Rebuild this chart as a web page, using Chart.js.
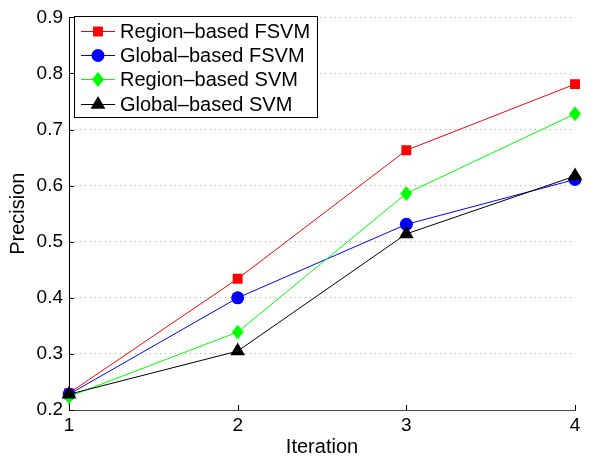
<!DOCTYPE html>
<html>
<head>
<meta charset="utf-8">
<script src="https://cdn.jsdelivr.net/npm/chart.js@4/dist/chart.umd.min.js"></script>
<style>
  html, body { margin: 0; padding: 0; background: #fff; }
  #wrap { width: 595px; height: 459px; }
</style>
</head>
<body>
<div id="wrap"><canvas id="precisionChart" width="595" height="459"></canvas></div>
<script>
// iterations on the x axis
const iterations = ['1', '2', '3', '4'];
const yTicks = [0.2, 0.3, 0.4, 0.5, 0.6, 0.7, 0.8, 0.9];

// precision per iteration
const regionFsvm = [0.230, 0.434, 0.663, 0.781];
const globalFsvm = [0.228, 0.400, 0.531, 0.611];
const regionSvm  = [0.224, 0.339, 0.586, 0.728];
const globalSvm  = [0.228, 0.305, 0.514, 0.617];

const seriesNames = ['Region\u2013based FSVM', 'Global\u2013based FSVM', 'Region\u2013based SVM', 'Global\u2013based SVM'];

const FONT = 'Liberation Sans, Arial, Helvetica, sans-serif';

// narrow diamond, like the matlab 'd' marker
function makeDiamond(w, h, color) {
  const c = document.createElement('canvas');
  c.width = w; c.height = h;
  const g = c.getContext('2d');
  g.fillStyle = color;
  g.beginPath();
  g.moveTo(w / 2, 0);
  g.lineTo(w, h / 2);
  g.lineTo(w / 2, h);
  g.lineTo(0, h / 2);
  g.closePath();
  g.fill();
  return c;
}
const greenDiamond = makeDiamond(12, 15, '#00ff00');

function series(label, data, color, style, radius, order) {
  return {
    label: label,
    data: data,
    borderColor: color,
    backgroundColor: color,
    borderWidth: 1,
    pointStyle: style,
    pointRadius: radius,
    pointHoverRadius: radius,
    pointBorderWidth: 0,
    pointBackgroundColor: color,
    tension: 0,
    order: order
  };
}

// legend drawn inside the plot, top left
const boxLegend = {
  id: 'boxLegend',
  afterDraw(chart) {
    const ctx = chart.ctx;
    const x0 = 74.5, y0 = 16.5, w = 243, h = 101;
    ctx.save();
    ctx.fillStyle = '#fff';
    ctx.fillRect(x0, y0, w, h);
    ctx.strokeStyle = '#000';
    ctx.lineWidth = 1;
    ctx.strokeRect(x0, y0, w, h);
    ctx.font = '20px ' + FONT;
    ctx.textBaseline = 'middle';
    chart.data.datasets.forEach((ds, i) => {
      const y = Math.round(31 + i * 24.2) + 0.5;
      ctx.strokeStyle = ds.borderColor;
      ctx.lineWidth = 1;
      ctx.beginPath();
      ctx.moveTo(81, y);
      ctx.lineTo(115, y);
      ctx.stroke();
      ctx.fillStyle = ds.pointBackgroundColor;
      Chart.helpers.drawPoint(ctx, { pointStyle: ds.pointStyle, radius: ds.pointRadius, rotation: 0, borderWidth: 0 }, 98, y);
      ctx.fillStyle = '#000';
      ctx.fillText(ds.label, 120, y + 1);
    });
    ctx.restore();
  }
};

// inward tick marks
const innerTicks = {
  id: 'innerTicks',
  afterDatasetsDraw(chart) {
    const ctx = chart.ctx;
    const xs = chart.scales.x, ys = chart.scales.y;
    const a = chart.chartArea;
    ctx.save();
    ctx.strokeStyle = '#000';
    ctx.lineWidth = 1;
    ctx.beginPath();
    yTicks.forEach(v => {
      const y = Math.round(ys.getPixelForValue(v)) + 0.5;
      ctx.moveTo(a.left, y);
      ctx.lineTo(a.left + 5, y);
    });
    iterations.forEach((_, i) => {
      const x = Math.round(xs.getPixelForValue(i)) + 0.5;
      ctx.moveTo(x, a.bottom);
      ctx.lineTo(x, a.bottom - 5);
    });
    ctx.stroke();
    ctx.restore();
  }
};

new Chart(document.getElementById('precisionChart'), {
  type: 'line',
  data: {
    labels: iterations,
    datasets: [
      series(seriesNames[0], regionFsvm, '#ff0000', 'rect', 7, 4),
      series(seriesNames[1], globalFsvm, '#0000ff', 'circle', 6.5, 3),
      series(seriesNames[2], regionSvm, '#00ff00', greenDiamond, 6.5, 2),
      series(seriesNames[3], globalSvm, '#000000', 'triangle', 8.5, 1)
    ]
  },
  options: {
    responsive: false,
    animation: false,
    layout: { padding: { top: 10, right: 20, left: 0, bottom: 0 } },
    plugins: {
      legend: { display: false },
      tooltip: { enabled: false }
    },
    scales: {
      x: {
        type: 'category',
        offset: false,
        grid: { display: false, drawTicks: false },
        border: { display: true, color: '#444', width: 1 },
        ticks: { color: '#000', font: { family: FONT, size: 19 }, padding: 4, maxRotation: 0 },
        title: { display: true, text: 'Iteration', color: '#000', font: { family: FONT, size: 20 }, padding: 0 },
        afterFit(scale) { scale.height = 49; }
      },
      y: {
        min: 0.2,
        max: 0.9,
        grid: { color: '#a8a8a8', lineWidth: 1, drawTicks: false },
        border: { display: true, color: '#000', width: 1, dash: [1, 4] },
        afterBuildTicks(scale) { scale.ticks = yTicks.map(v => ({ value: v })); },
        ticks: {
          color: '#000',
          font: { family: FONT, size: 19 },
          padding: 6,
          callback: v => v.toFixed(1)
        },
        title: { display: true, text: 'Precision', color: '#000', font: { family: FONT, size: 20 }, padding: { top: 6, bottom: 6 } },
        afterFit(scale) { scale.width = 69; }
      }
    }
  },
  plugins: [innerTicks, boxLegend]
});
</script>
</body>
</html>
